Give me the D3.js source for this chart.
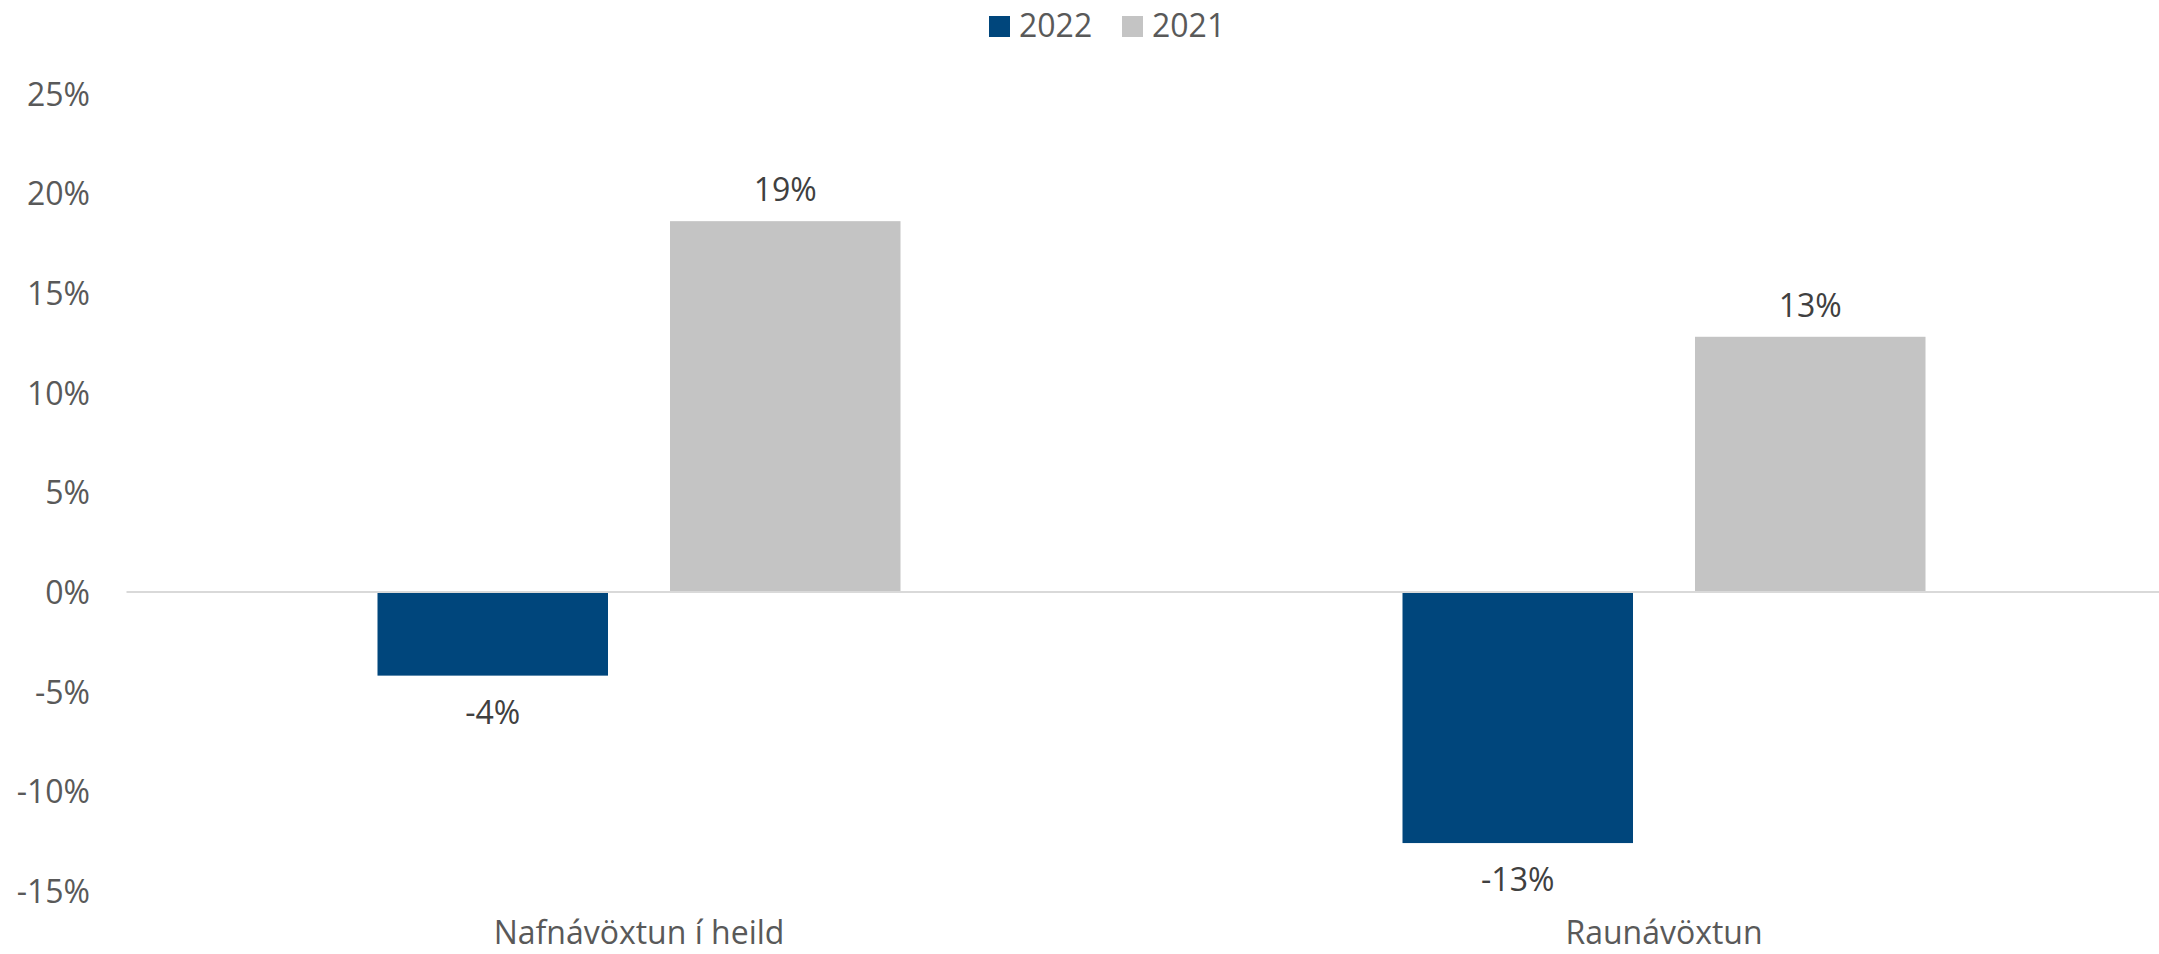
<!DOCTYPE html>
<html>
<head>
<meta charset="utf-8">
<script src="https://cdn.jsdelivr.net/npm/d3@7"></script>
<style>
  html, body { margin: 0; padding: 0; background: #ffffff; }
  svg { display: block; }
  text { font-family: "Open Sans", "Noto Sans", sans-serif; }
</style>
</head>
<body>
<svg id="chart" width="2159" height="954"></svg>
<script>
// ---- data ----
const categories = ["Nafnávöxtun í heild", "Raunávöxtun"];
const seriesNames = ["2022", "2021"];
const values2022 = [-4.2, -12.6];
const values2021 = [18.6, 12.8];
const yTicks = [-15, -10, -5, 0, 5, 10, 15, 20, 25];
const seriesColors = ["#00467c", "#c4c4c4"];

const seriesValues = [values2022, values2021];

const svg = d3.select("#chart");

const x0 = d3.scaleBand().domain(categories).range([126.5, 2176.5]).paddingInner(0).paddingOuter(0);
const outer = 251;
const x1 = d3.scaleBand().domain(seriesNames)
  .range([outer, x0.bandwidth() - outer]).paddingInner(0.212).paddingOuter(0);
const y = d3.scaleLinear().domain([-15, 25]).range([890.9, 93.6]);

const fontSize = 32;
const fmt = v => Math.round(v) + "%";

// y axis labels
const yAxis = d3.axisLeft(y).tickValues(yTicks).tickSize(0).tickPadding(0)
  .tickFormat(d => d + "%");
const gy = svg.append("g").attr("transform", "translate(90,0)").call(yAxis);
gy.select(".domain").remove();
gy.selectAll("text")
  .attr("font-size", fontSize)
  .attr("font-family", "'Open Sans', sans-serif")
  .attr("fill", "#595959")
  .attr("dy", "0.36em");

// bars
const groups = svg.append("g").selectAll("g")
  .data(categories).join("g")
  .attr("transform", d => `translate(${x0(d)},0)`);

groups.selectAll("rect")
  .data((c, i) => seriesNames.map((s, j) => ({ s, j, v: seriesValues[j][i] })))
  .join("rect")
  .attr("x", d => x1(d.s))
  .attr("width", x1.bandwidth())
  .attr("y", d => y(Math.max(0, d.v)))
  .attr("height", d => Math.abs(y(d.v) - y(0)))
  .attr("fill", d => seriesColors[d.j]);

// zero line
svg.append("line")
  .attr("x1", x0.range()[0]).attr("x2", x0.range()[1])
  .attr("y1", y(0)).attr("y2", y(0))
  .attr("stroke", "#d9d9d9").attr("stroke-width", 2);

// data labels
groups.selectAll("text.lbl")
  .data((c, i) => seriesNames.map((s, j) => ({ s, j, v: seriesValues[j][i] })))
  .join("text")
  .attr("class", "lbl")
  .attr("x", d => x1(d.s) + x1.bandwidth() / 2)
  .attr("y", d => d.v >= 0 ? y(d.v) - 20 : y(d.v) + 48)
  .attr("text-anchor", "middle")
  .attr("font-size", fontSize)
  .attr("fill", "#404040")
  .text(d => fmt(d.v));

// category labels
const xAxis = d3.axisBottom(x0).tickSize(0).tickPadding(0);
const gx = svg.append("g").attr("transform", "translate(0,944)").call(xAxis);
gx.select(".domain").remove();
gx.selectAll("text")
  .attr("font-size", fontSize)
  .attr("font-family", "'Open Sans', sans-serif")
  .attr("fill", "#595959")
  .attr("dy", 0)
  .attr("y", 0);

// legend
const legendItems = [
  { name: seriesNames[0], color: seriesColors[0], x: 989 },
  { name: seriesNames[1], color: seriesColors[1], x: 1122 }
];
const lg = svg.append("g");
legendItems.forEach(it => {
  lg.append("rect").attr("x", it.x).attr("y", 16).attr("width", 21).attr("height", 21).attr("fill", it.color);
  lg.append("text").attr("x", it.x + 30).attr("y", 37)
    .attr("font-size", fontSize).attr("fill", "#595959").text(it.name);
});
</script>
</body>
</html>
